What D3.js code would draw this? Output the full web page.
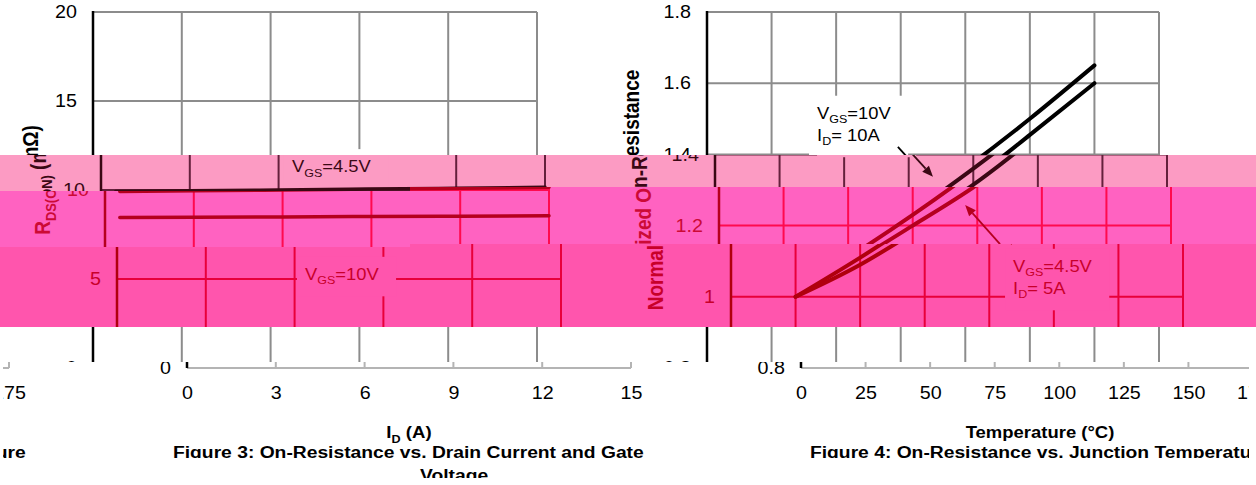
<!DOCTYPE html>
<html>
<head>
<meta charset="utf-8">
<script src="https://cdn.jsdelivr.net/npm/d3@7"></script>
<style>
  body { margin: 0; background: #fff; }
  svg { display: block; }
</style>
</head>
<body>
<svg id="fig" width="1256" height="485"></svg>
<script>
// Figure 3: on-resistance vs drain current
const idAmps = [0.5, 3, 6, 9, 12, 15];
const rdsVgs45 = [9.92, 9.96, 10.0, 10.05, 10.1, 10.15];
const rdsVgs10 = [8.45, 8.47, 8.49, 8.51, 8.53, 8.55];
const idTicks = [0, 3, 6, 9, 12, 15];
const rdsTicks = [0, 5, 10, 15, 20];

// Figure 4: normalized on-resistance vs junction temperature
const tempC = [25, 50, 75, 100, 125, 150];
const normVgs10 = [1.0, 1.11, 1.23, 1.36, 1.50, 1.65];
const normVgs45 = [1.0, 1.09, 1.20, 1.315, 1.455, 1.60];
const tempTicks = [0, 25, 50, 75, 100, 125, 150, 175];
const normTicks = [0.8, 1.0, 1.2, 1.4, 1.6, 1.8];

// annotation text: [main, subscript, rest]
const noteVgs45 = [['V', 'GS', '=4.5V']];
const noteVgs10 = [['V', 'GS', '=10V']];
const noteHot10 = [['V', 'GS', '=10V'], ['I', 'D', '= 10A']];
const noteHot45 = [['V', 'GS', '=4.5V'], ['I', 'D', '= 5A']];

const FONT = '"Liberation Sans", Arial, Helvetica, sans-serif';
const SX = 1.12; // the scan is stretched a little horizontally

const x3 = d3.scaleLinear().domain([0, 15]).range([93, 537]);
const y3 = d3.scaleLinear().domain([0, 20]).range([368, 12]);
const x4 = d3.scaleLinear().domain([0, 175]).range([707, 1159]);
const y4 = d3.scaleLinear().domain([0.8, 1.8]).range([368, 12]);

const figures = [
    {x: x3, y: y3, xTicks: idTicks, yTicks: rdsTicks, xs: idAmps, series: [rdsVgs45, rdsVgs10], lw: 3.5},
    {x: x4, y: y4, xTicks: tempTicks, yTicks: normTicks, xs: tempC, series: [normVgs10, normVgs45], lw: 4}
];

const notes = [
    {fig: 0, at: [6.45, 11.0], lines: noteVgs45},
    {fig: 0, at: [6.35, 4.95], lines: noteVgs10},
    {fig: 1, at: [42.6, 1.50], lines: noteHot10, arrow: [[73.9, 1.421], [84.4, 1.337]]},
    {fig: 1, at: [109.2, 1.07], lines: noteHot45, arrow: [[108.8, 1.148], [95.3, 1.258]]}
];

// colour sets: the plain scan and the three tinted glitch bands
const PAL = {
    plain: {bg: '#ffffff', grid: '#8c8c8c', ink: '#000000', text: '#000000'},
    band1: {bg: '#fc9bc3', grid: '#64203c', ink: '#3a0814', text: '#3a0814'},
    band2: {bg: '#ff62c1', grid: '#ff0a4e', ink: '#b5001e', text: '#cc0a36'},
    band3: {bg: '#ff55ad', grid: '#e8003a', ink: '#b0000e', text: '#c8002a'},
    strip: {bg: '#ffffff', grid: '#b4b4b4', ink: '#000000', text: '#000000'}
};

function subText(sel, parts, size) {
    sel.append('tspan').text(parts[0]);
    sel.append('tspan').text(parts[1]).attr('font-size', size * 0.68).attr('dy', size * 0.28);
    sel.append('tspan').text(parts[2]).attr('dy', -size * 0.28);
}

function arrow(g, p0, p1, color) {
    let a = Math.atan2(p1[1] - p0[1], p1[0] - p0[0]), L = 11, W = 4.5;
    let bx = p1[0] - L * Math.cos(a), by = p1[1] - L * Math.sin(a);
    g.append('line').attr('x1', p0[0]).attr('y1', p0[1]).attr('x2', bx).attr('y2', by)
        .attr('stroke', color).attr('stroke-width', 1.8);
    let pts = [p1, [bx + W * Math.sin(a), by - W * Math.cos(a)], [bx - W * Math.sin(a), by + W * Math.cos(a)]];
    g.append('path').attr('d', 'M' + pts.join('L') + 'Z').attr('fill', color);
}

function drawChart(g, pal, c) {
    let [xl, xr] = c.x.range(), [yb, yt] = c.y.range();

    // grid
    g.append('g').selectAll('line').data(c.xTicks).join('line')
        .attr('x1', d => c.x(d)).attr('x2', d => c.x(d)).attr('y1', yt).attr('y2', yb)
        .attr('stroke', pal.grid).attr('stroke-width', 2);
    g.append('g').selectAll('line').data(c.yTicks).join('line')
        .attr('x1', xl).attr('x2', xr).attr('y1', d => c.y(d)).attr('y2', d => c.y(d))
        .attr('stroke', pal.grid).attr('stroke-width', 2);
    g.append('line').attr('x1', xl).attr('x2', xl).attr('y1', yt - 1).attr('y2', yb)
        .attr('stroke', pal.ink).attr('stroke-width', 2.5);

    // tick labels
    g.append('g').attr('transform', `translate(${xl},0)`)
        .call(d3.axisLeft(c.y).tickValues(c.yTicks).tickSize(0).tickPadding(16).tickFormat(d => String(d)))
        .call(a => {
            a.select('.domain').remove();
            a.attr('font-family', FONT).attr('font-size', 17.6);
            a.selectAll('text').attr('fill', pal.text).attr('x', -16 / SX).attr('transform', `scale(${SX},1)`);
        });
    g.append('g').attr('transform', `translate(0,${yb})`)
        .call(d3.axisBottom(c.x).tickValues(c.xTicks).tickSize(0).tickPadding(19).tickFormat(d => String(d)))
        .call(a => {
            a.select('.domain').remove();
            a.attr('font-family', FONT).attr('font-size', 17.6);
            a.selectAll('text').attr('fill', pal.text).attr('transform', `scale(${SX},1)`);
        });
}

function drawNote(g, pal, n) {
    let c = figures[n.fig];
    let ng = g.append('g').attr('transform', `translate(${c.x(n.at[0])},${c.y(n.at[1])})`);
    let box = ng.append('rect').attr('fill', pal.bg);
    n.lines.forEach((parts, i) => {
        let t = ng.append('text').attr('transform', `translate(0,${i * 22}) scale(${SX},1)`)
            .attr('font-family', FONT).attr('font-size', 16.4).attr('fill', pal.text);
        subText(t, parts, 16.4);
    });
    let bb = ng.node().getBBox();
    box.attr('x', bb.x - 8).attr('y', bb.y - 8).attr('width', bb.width + 25).attr('height', bb.height + 17);
}

function drawFigures(g, pal) {
    figures.forEach(c => drawChart(g, pal, c));
    notes.forEach(n => drawNote(g, pal, n));

    // curves
    figures.forEach(c => {
        let line = d3.line().x(d => c.x(d[0])).y(d => c.y(d[1])).curve(d3.curveNatural);
        c.series.forEach(s => g.append('path').datum(d3.zip(c.xs, s)).attr('d', line)
            .attr('fill', 'none').attr('stroke', pal.ink).attr('stroke-width', c.lw)
            .attr('stroke-linecap', 'round'));
    });
    notes.filter(n => n.arrow).forEach(n => {
        let c = figures[n.fig];
        arrow(g, n.arrow[0].map((v, i) => i ? c.y(v) : c.x(v)), n.arrow[1].map((v, i) => i ? c.y(v) : c.x(v)), pal.ink);
    });

    // axis titles
    let t = g.append('text').attr('transform', `translate(38,180) scale(${SX},1) rotate(-90)`)
        .attr('text-anchor', 'middle').attr('font-family', FONT).attr('font-weight', 'bold')
        .attr('font-size', 19).attr('fill', pal.text);
    subText(t, ['R', 'DS(ON)', ' (m\u03A9)'], 19);
    g.append('text').attr('transform', `translate(639,190) scale(${SX},1) rotate(-90)`)
        .attr('text-anchor', 'middle').attr('font-family', FONT).attr('font-weight', 'bold')
        .attr('font-size', 19).attr('fill', pal.text).text('Normalized On-Resistance');
    t = g.append('text').attr('transform', `translate(315,438) scale(${SX},1)`)
        .attr('text-anchor', 'middle').attr('font-family', FONT).attr('font-weight', 'bold')
        .attr('font-size', 16.6).attr('fill', pal.text);
    subText(t, ['I', 'D', ' (A)'], 16.6);
    g.append('text').attr('transform', `translate(946,438) scale(${SX},1)`)
        .attr('text-anchor', 'middle').attr('font-family', FONT).attr('font-weight', 'bold')
        .attr('font-size', 16.5).attr('fill', pal.text).text('Temperature (\u00B0C)');

    // captions
    [['Figure 3: On-Resistance vs. Drain Current and Gate', 79, 458],
     ['Voltage', 326, 481],
     ['Figure 4: On-Resistance vs. Junction Temperature', 716, 458]].forEach(([s, x, y]) =>
        g.append('text').attr('transform', `translate(${x},${y}) scale(${SX},1)`)
            .attr('font-family', FONT).attr('font-weight', 'bold').attr('font-size', 17.2)
            .attr('fill', pal.text).text(s));
}

const svg = d3.select('#fig');
const defs = svg.append('defs');
const SPLIT = 410;

const layers = [
    {id: 'base', dx: 0, pal: PAL.plain, rects: [[0, 0, 1256, 362]]},
    {id: 'band1', dx: 8, pal: PAL.band1, rects: [[0, 155, SPLIT, 36], [SPLIT, 155, 1256 - SPLIT, 32]]},
    {id: 'band2', dx: 12, pal: PAL.band2, rects: [[0, 191, SPLIT, 56], [SPLIT, 187, 1256 - SPLIT, 57]]},
    {id: 'band3', dx: 24, pal: PAL.band3, rects: [[0, 247, SPLIT, 80], [SPLIT, 244, 1256 - SPLIT, 83]]},
    {id: 'strip', dx: 94, pal: PAL.strip, rects: [[0, 362, 1249, 96], [0, 465, 1249, 13]]},
    {id: 'wrap', dx: -1150, pal: PAL.strip, rects: [[3, 362, 57, 96], [0, 465, 60, 13]]}
];

layers.forEach(l => {
    let cp = defs.append('clipPath').attr('id', 'clip-' + l.id);
    l.rects.forEach(r => cp.append('rect').attr('x', r[0]).attr('y', r[1]).attr('width', r[2]).attr('height', r[3]));
    let outer = svg.append('g').attr('clip-path', `url(#clip-${l.id})`);
    outer.append('rect').attr('width', 1256).attr('height', 485).attr('fill', l.pal.bg);
    drawFigures(outer.append('g').attr('transform', `translate(${l.dx},0)`), l.pal);
});
</script>
</body>
</html>
